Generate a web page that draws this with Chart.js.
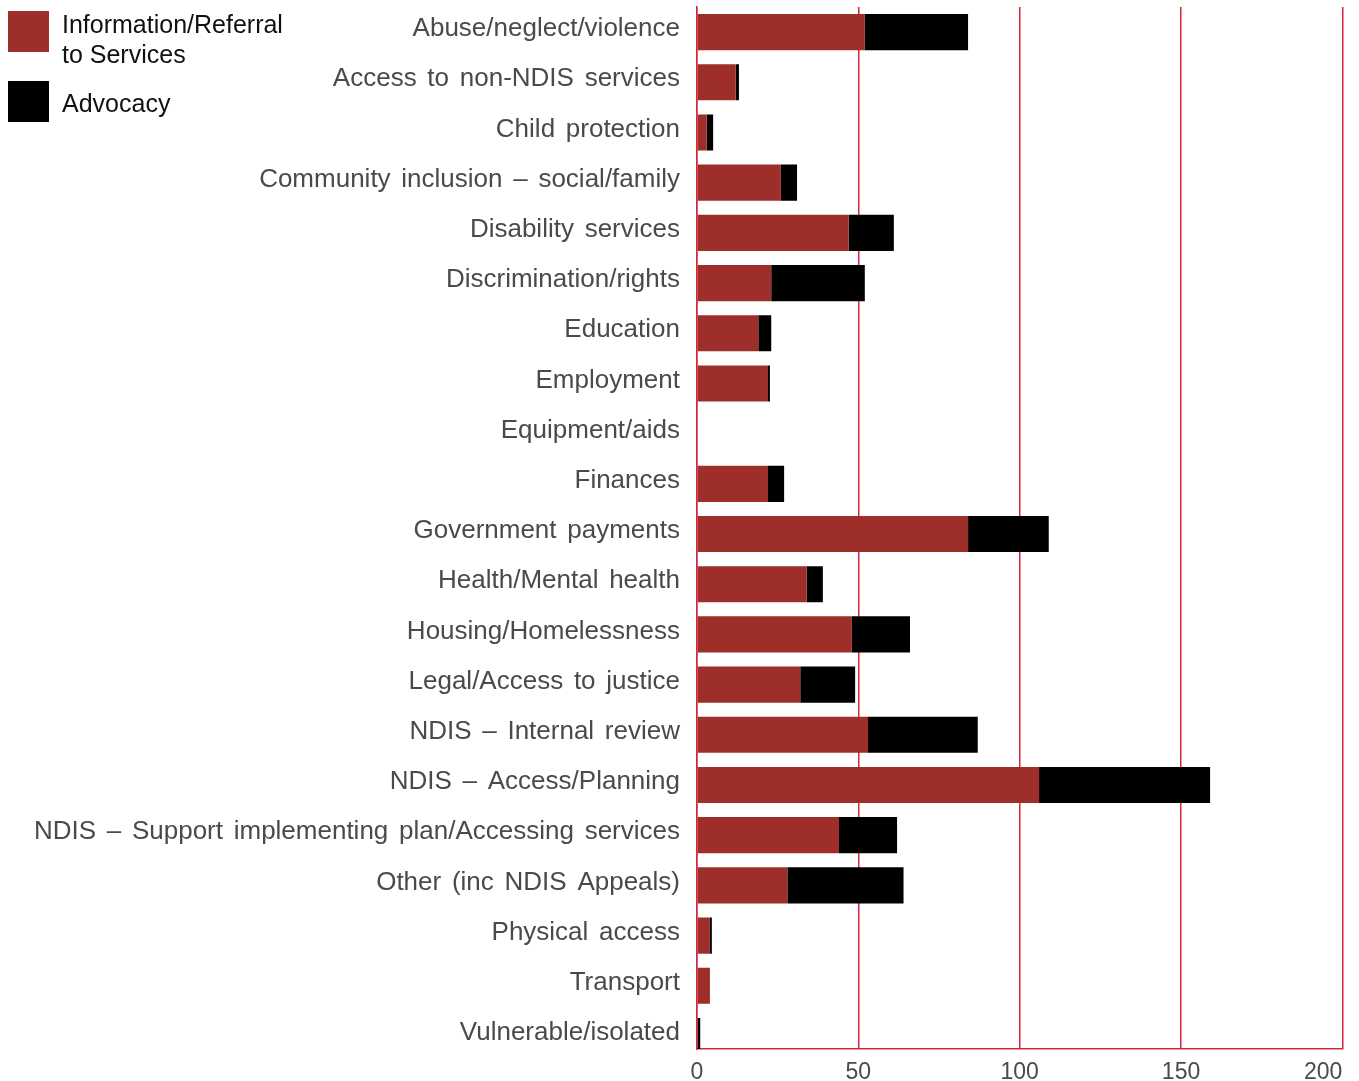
<!DOCTYPE html>
<html>
<head>
<meta charset="utf-8">
<title>Issues by category</title>
<script src="https://cdn.jsdelivr.net/npm/chart.js@4.4.1/dist/chart.umd.min.js"></script>
<style>
  html, body { margin: 0; padding: 0; background: #ffffff; }
  canvas { display: block; }
</style>
</head>
<body>
<canvas id="chart" width="1359" height="1081"></canvas>
<script>
// Issue categories, top to bottom
const categories = [
  'Abuse/neglect/violence',
  'Access to non-NDIS services',
  'Child protection',
  'Community inclusion – social/family',
  'Disability services',
  'Discrimination/rights',
  'Education',
  'Employment',
  'Equipment/aids',
  'Finances',
  'Government payments',
  'Health/Mental health',
  'Housing/Homelessness',
  'Legal/Access to justice',
  'NDIS – Internal review',
  'NDIS – Access/Planning',
  'NDIS – Support implementing plan/Accessing services',
  'Other (inc NDIS Appeals)',
  'Physical access',
  'Transport',
  'Vulnerable/isolated'
];

// Number of contacts per category
const infoReferral = [52, 12, 3, 26, 47, 23, 19, 22, 0, 22, 84, 34, 48, 32, 53, 106, 44, 28, 4, 4, 0];
const advocacy     = [32, 1, 2, 5, 14, 29, 4, 0.6, 0, 5, 25, 5, 18, 17, 34, 53, 18, 36, 0.6, 0, 1];

const seriesNames = ['Information/Referral to Services', 'Advocacy'];
const seriesColors = ['#9e2e2a', '#000000'];

// Value axis tick labels
const xTicks = [0, 50, 100, 150, 200];

const FONT = "'Liberation Sans', Arial, Helvetica, sans-serif";
const GRID_RED = '#d3283a';
const LABEL_GREY = '#4a4a4a';

// Bars sit on a numeric index axis: one row per category
const toPoints = vals => vals.map((v, i) => ({ x: v, y: i }));

// Slightly wider gaps between words in the category labels;
// the first value-axis label stays centred on its gridline, the last one stays inside the canvas
const labelSpacing = {
  id: 'labelSpacing',
  beforeDraw(chart) {
    if ('wordSpacing' in chart.ctx) chart.ctx.wordSpacing = '3.5px';
    const xs = chart.scales.x;
    if (xs && typeof xs.getLabelItems === 'function') {
      const items = xs.getLabelItems(chart.chartArea);
      if (items && items.length && items[0].options) items[0].options.textAlign = 'center';
    }
  }
};

// Legend in the top-left corner, stacked swatches with wrapped text
const cornerLegend = {
  id: 'cornerLegend',
  afterDraw(chart) {
    const ctx = chart.ctx;
    ctx.save();
    if ('wordSpacing' in ctx) ctx.wordSpacing = '0px';
    ctx.font = `25px ${FONT}`;
    ctx.textAlign = 'left';
    ctx.textBaseline = 'alphabetic';
    const boxX = 8, box = 41, textX = 62, lineH = 30, maxW = 230;
    let top = 11;
    chart.data.datasets.forEach(ds => {
      ctx.fillStyle = ds.backgroundColor;
      ctx.fillRect(boxX, top, box, box);
      const words = ds.label.split(' ');
      const lines = [];
      let cur = '';
      words.forEach(w => {
        const t = cur ? cur + ' ' + w : w;
        if (cur && ctx.measureText(t).width > maxW) { lines.push(cur); cur = w; }
        else cur = t;
      });
      lines.push(cur);
      ctx.fillStyle = '#111111';
      const first = lines.length > 1 ? top + 22 : top + 31;
      lines.forEach((ln, k) => ctx.fillText(ln, textX, first + k * lineH));
      top += 70;
    });
    ctx.restore();
  }
};

new Chart(document.getElementById('chart'), {
  type: 'bar',
  data: {
    datasets: [
      {
        label: seriesNames[0],
        data: toPoints(infoReferral),
        backgroundColor: seriesColors[0],
        borderWidth: 0,
        barPercentage: 0.9,
        categoryPercentage: 0.8
      },
      {
        label: seriesNames[1],
        data: toPoints(advocacy),
        backgroundColor: seriesColors[1],
        borderWidth: 0,
        barPercentage: 0.9,
        categoryPercentage: 0.8
      }
    ]
  },
  options: {
    indexAxis: 'y',
    responsive: false,
    devicePixelRatio: 1,
    animation: false,
    layout: { padding: { top: 7, right: 16.6, bottom: 0, left: 0 } },
    plugins: {
      legend: { display: false },
      tooltip: { enabled: false }
    },
    scales: {
      x: {
        type: 'linear',
        position: 'bottom',
        min: 0,
        max: 200,
        stacked: true,
        afterBuildTicks: s => { s.ticks = xTicks.map(v => ({ value: v })); },
        ticks: {
          align: 'inner',
          maxRotation: 0,
          color: LABEL_GREY,
          font: { family: FONT, size: 23 },
          padding: 10
        },
        grid: { color: GRID_RED, lineWidth: 1.5, drawTicks: false },
        border: { display: true, color: GRID_RED, width: 1.5 },
        afterFit: s => { s.height = 32; s.paddingLeft = 0; s.paddingRight = 0; }
      },
      y: {
        type: 'linear',
        reverse: true,
        offset: false,
        min: -0.5,
        max: 20.26,
        stacked: true,
        afterBuildTicks: s => { s.ticks = categories.map((_, i) => ({ value: i })); },
        ticks: {
          autoSkip: false,
          callback: v => categories[v],
          color: LABEL_GREY,
          font: { family: FONT, size: 26 },
          padding: 17,
          labelOffset: -3
        },
        grid: { display: false, offset: false, drawTicks: false },
        border: { display: true, color: GRID_RED, width: 1.5 },
        afterFit: s => { s.width = 697; s.paddingTop = 0; s.paddingBottom = 0; }
      }
    }
  },
  plugins: [labelSpacing, cornerLegend]
});
</script>
</body>
</html>
